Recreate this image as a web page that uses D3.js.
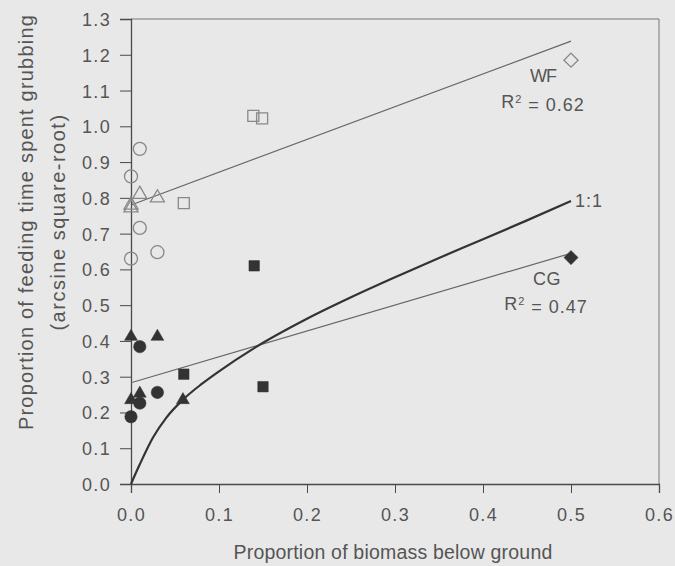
<!DOCTYPE html>
<html>
<head>
<meta charset="utf-8">
<script src="https://cdn.jsdelivr.net/npm/d3@7"></script>
<style>
  html, body { margin: 0; padding: 0; background: #e8e8e8; }
  svg { display: block; }
  text { font-family: "Liberation Sans", Arial, sans-serif; fill: #555; }
</style>
</head>
<body>
<svg id="chart" width="675" height="566"></svg>
<script>
// ---- data ----
const xTicks = [0.0, 0.1, 0.2, 0.3, 0.4, 0.5, 0.6];
const yTicks = [0.0, 0.1, 0.2, 0.3, 0.4, 0.5, 0.6, 0.7, 0.8, 0.9, 1.0, 1.1, 1.2, 1.3];

// WF (open symbols)
const wfCircles   = [[0, 0.86], [0.01, 0.937], [0, 0.63], [0.01, 0.716], [0.03, 0.648]];
const wfTriangles = [[0.01, 0.81], [0.03, 0.80], [0, 0.772], [0, 0.78]];
const wfSquares   = [[0.139, 1.029], [0.149, 1.022], [0.06, 0.785]];
const wfDiamonds  = [[0.5, 1.185]];

// CG (filled symbols)
const cgCircles   = [[0.01, 0.384], [0.03, 0.256], [0.01, 0.226], [0, 0.188]];
const cgTriangles = [[0, 0.412], [0.03, 0.412], [0.01, 0.253], [0, 0.235], [0.059, 0.235]];
const cgSquares   = [[0.14, 0.61], [0.06, 0.307], [0.15, 0.272]];
const cgDiamonds  = [[0.5, 0.633]];

// regression lines
const wfFit = [[0, 0.78], [0.5, 1.238]];
const cgFit = [[0, 0.283], [0.5, 0.645]];

// 1:1 reference curve
const oneToOne = [[0, 0], [0.01, 0.055], [0.025, 0.13], [0.04, 0.185], [0.06, 0.238],
  [0.08, 0.279], [0.1, 0.315], [0.14, 0.38], [0.2, 0.462], [0.25, 0.522],
  [0.3, 0.578], [0.35, 0.632], [0.4, 0.684], [0.45, 0.737], [0.5, 0.791]];

const labels = { wf: "WF", wfR: "0.62", cg: "CG", cgR: "0.47", ref: "1:1" };
const xTitle = "Proportion of biomass below ground";
const yTitle1 = "Proportion of feeding time spent grubbing";
const yTitle2 = "(arcsine square-root)";

// ---- layout ----
const svg = d3.select("#chart");
const pL = 131, pR = 659, pT = 19, pB = 484;
const x = d3.scaleLinear().domain([0, 0.6]).range([pL, pR]);
const y = d3.scaleLinear().domain([0, 1.3]).range([pB, pT]);

const axisColor = "#4a4a4a";

// frame top/right
svg.append("line").attr("x1", pL).attr("x2", pR).attr("y1", pT).attr("y2", pT)
  .attr("stroke", "#777").attr("stroke-width", 1);
svg.append("line").attr("x1", pR).attr("x2", pR).attr("y1", pT).attr("y2", pB)
  .attr("stroke", "#777").attr("stroke-width", 1);

// axes
const xAxis = svg.append("g").attr("transform", `translate(0,${pB})`)
  .call(d3.axisBottom(x).tickValues(xTicks).tickFormat(d3.format(".1f")).tickSizeOuter(0).tickSize(9).tickPadding(15));
const yAxis = svg.append("g").attr("transform", `translate(${pL},0)`)
  .call(d3.axisLeft(y).tickValues(yTicks).tickFormat(d3.format(".1f")).tickSizeOuter(0).tickSize(11).tickPadding(9));
[xAxis, yAxis].forEach(g => {
  g.select(".domain").attr("stroke", axisColor).attr("stroke-width", 1.3);
  g.selectAll(".tick line").attr("stroke", axisColor).attr("stroke-width", 1);
  g.selectAll(".tick text").attr("fill", "#555").style("font-family", '"Liberation Sans", Arial, sans-serif')
    .style("font-size", "18px").style("letter-spacing", "1.3px");
});
yAxis.selectAll(".tick text").attr("dy", "0.36em");

// axis titles
svg.append("text").attr("x", (pL + pR) / 2 - 2).attr("y", 559).attr("text-anchor", "middle")
  .style("font-size", "19.5px").style("letter-spacing", "0.2px").text(xTitle);
svg.append("text").attr("transform", "translate(33,222) rotate(-90)").attr("text-anchor", "middle")
  .style("font-size", "20px").style("letter-spacing", "1.2px").text(yTitle1);
svg.append("text").attr("transform", "translate(65,222) rotate(-90)").attr("text-anchor", "middle")
  .style("font-size", "20px").style("letter-spacing", "1.5px").text(yTitle2);

// lines
const line = d3.line().x(d => x(d[0])).y(d => y(d[1]));
svg.append("path").attr("d", line(wfFit)).attr("fill", "none").attr("stroke", "#666").attr("stroke-width", 1.2);
svg.append("path").attr("d", line(cgFit)).attr("fill", "none").attr("stroke", "#666").attr("stroke-width", 1.2);
svg.append("path").attr("d", line.curve(d3.curveMonotoneX)(oneToOne)).attr("fill", "none")
  .attr("stroke", "#333").attr("stroke-width", 2.2);

// markers
const openStyle = s => s.attr("fill", "none").attr("stroke", "#888").attr("stroke-width", 1.3);
const fillStyle = s => s.attr("fill", "#333").attr("stroke", "#333").attr("stroke-width", 0.5);

function circles(data, r, style) {
  svg.append("g").selectAll("circle").data(data).join("circle")
    .attr("cx", d => x(d[0])).attr("cy", d => y(d[1])).attr("r", r).call(style);
}
function symbols(data, type, size, style, rot) {
  svg.append("g").selectAll("path").data(data).join("path")
    .attr("d", d3.symbol().type(type).size(size))
    .attr("transform", d => `translate(${x(d[0])},${y(d[1])}) rotate(${rot || 0})`).call(style);
}

circles(wfCircles, 6.5, openStyle);
symbols(wfTriangles, d3.symbolTriangle, 85, openStyle);
symbols(wfSquares, d3.symbolSquare, 121, openStyle);
symbols(wfDiamonds, d3.symbolSquare, 100, openStyle, 45);

circles(cgCircles, 6.2, fillStyle);
symbols(cgTriangles, d3.symbolTriangle, 72, fillStyle);
symbols(cgSquares, d3.symbolSquare, 110, fillStyle);
symbols(cgDiamonds, d3.symbolSquare, 100, fillStyle, 45);

// annotations
function rLabel(cx, by, val) {
  const t = svg.append("text").attr("x", cx).attr("y", by).attr("text-anchor", "middle")
    .style("font-size", "18px").style("letter-spacing", "1px");
  t.append("tspan").text("R");
  t.append("tspan").attr("dy", "-0.45em").style("font-size", "11px").text("2");
  t.append("tspan").attr("dy", "0.45em").text(" = " + val);
}
svg.append("text").attr("x", x(0.5) - 28).attr("y", 82).attr("text-anchor", "middle")
  .style("font-size", "18px").style("letter-spacing", "-1px").text(labels.wf);
rLabel(x(0.5) - 28, 108, labels.wfR);
svg.append("text").attr("x", x(0.5) - 24).attr("y", 285).attr("text-anchor", "middle")
  .style("font-size", "18px").style("letter-spacing", "0.5px").text(labels.cg);
rLabel(x(0.5) - 25, 310, labels.cgR);
svg.append("text").attr("x", x(0.5) + 4).attr("y", 207).attr("text-anchor", "start")
  .style("font-size", "18px").style("letter-spacing", "1px").text(labels.ref);
</script>
</body>
</html>
